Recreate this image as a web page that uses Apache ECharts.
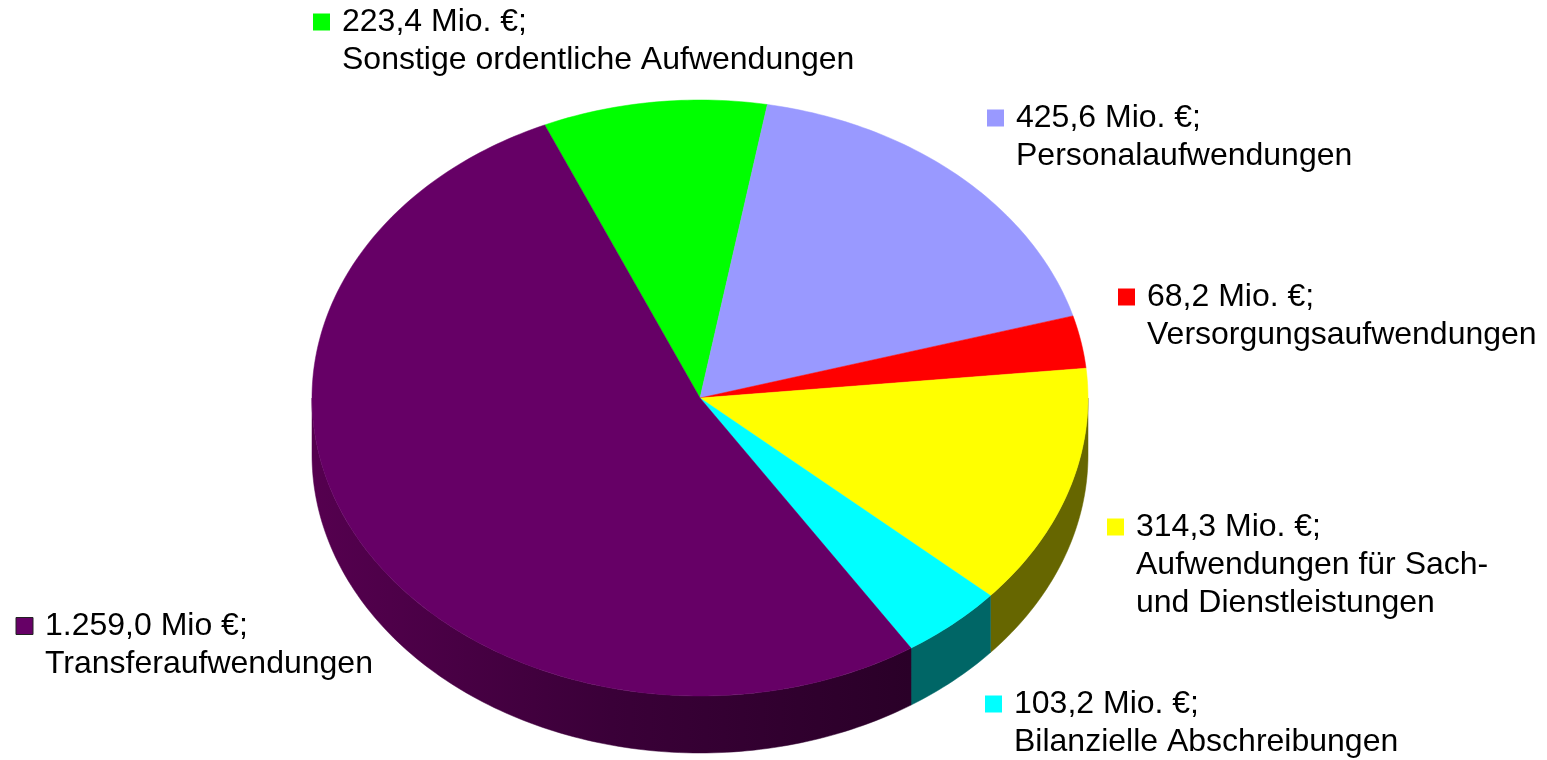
<!DOCTYPE html>
<html>
<head>
<meta charset="utf-8">
<script src="https://cdn.jsdelivr.net/npm/echarts@6/dist/echarts.min.js"></script>
<style>
  html, body { margin: 0; padding: 0; background: #fff; }
  #chart { width: 1547px; height: 760px; }
</style>
</head>
<body>
<div id="chart"></div>
<script>
// data
var names = ['Sonstige ordentliche Aufwendungen', 'Personalaufwendungen', 'Versorgungsaufwendungen',
  'Aufwendungen für Sach-\nund Dienstleistungen', 'Bilanzielle Abschreibungen', 'Transferaufwendungen']
var values = [223.4, 425.6, 68.2, 314.3, 103.2, 1259.0]
var units = ['Mio. €', 'Mio. €', 'Mio. €', 'Mio. €', 'Mio. €', 'Mio €']

// styles / layout
var colors = ['#00ff00', '#9999ff', '#ff0000', '#ffff00', '#00ffff', '#660066']
var sideColors = ['#008000', '#4d4d80', '#800000', '#666600', '#006666', null]
var labelAt = [[313, 22], [987, 118], [1118, 297], [1107, 527], [985, 704], [16, 626]]
var cx = 700, cy = 398, rx = 388, ry = 298, depth = 57, startDeg = -23.6

var total = values.reduce(function(s, v) { return s + v }, 0)

function fmt(v) {
  var parts = v.toFixed(1).split('.')
  var intPart = parts[0].replace(/\B(?=(\d{3})+(?!\d))/g, '.')
  return intPart + ',' + parts[1]
}

function angles(i, v) {
  var before = 0
  for (var j = 0; j < i; j++) before += values[j]
  var a = startDeg + before / total * 360
  return [a, a + v / total * 360]
}

function pt(deg, dy) {
  var r = deg * Math.PI / 180
  return [cx + rx * Math.sin(r), cy - ry * Math.cos(r) + (dy || 0)]
}

function arc(a, b, dy) {
  var pts = []
  var n = Math.max(2, Math.ceil(Math.abs(b - a)))
  for (var k = 0; k <= n; k++) pts.push(pt(a + (b - a) * k / n, dy))
  return pts
}

function renderSide(params, api) {
  var i = params.dataIndex
  var ab = angles(i, api.value(0))
  var s = Math.max(ab[0], 90), e = Math.min(ab[1], 270)
  if (e <= s) return null
  var pts = arc(s, e, 0).concat(arc(e, s, depth))
  var fill = sideColors[i] || new echarts.graphic.LinearGradient(0, 0, 1, 0, [
    { offset: 0, color: '#55004f' },
    { offset: 0.5, color: '#3a0038' },
    { offset: 1, color: '#2a0028' }
  ])
  return {
    type: 'polygon',
    shape: { points: pts },
    style: { fill: fill, stroke: fill, lineWidth: 0.5 }
  }
}

function renderTop(params, api) {
  var i = params.dataIndex
  var v = api.value(0)
  var ab = angles(i, v)
  var pts = [[cx, cy]].concat(arc(ab[0], ab[1], 0))
  var lx = labelAt[i][0], ly = labelAt[i][1]
  return {
    type: 'group',
    children: [
      {
        type: 'polygon',
        shape: { points: pts },
        style: { fill: colors[i], stroke: colors[i], lineWidth: 0.5 }
      },
      {
        type: 'rect',
        shape: { x: lx, y: ly - 8.5, width: 17, height: 17 },
        style: { fill: colors[i], stroke: i === 5 ? '#222' : null, lineWidth: 1 }
      },
      {
        type: 'text',
        x: lx + 29,
        y: ly - 19,
        style: {
          text: fmt(v) + ' ' + units[i] + ';\n' + names[i],
          fontFamily: '"Liberation Sans", Arial, sans-serif',
          fontSize: 32,
          lineHeight: 38,
          fill: '#000',
          verticalAlign: 'top',
          align: 'left'
        }
      }
    ]
  }
}

var chart = echarts.init(document.getElementById('chart'))
var seriesData = values.map(function(v, i) { return { name: names[i], value: [v] } })
chart.setOption({
  animation: false,
  backgroundColor: '#fff',
  series: [
    { type: 'custom', coordinateSystem: 'none', z: 1, data: seriesData, renderItem: renderSide },
    { type: 'custom', coordinateSystem: 'none', z: 2, data: seriesData, renderItem: renderTop }
  ]
})
</script>
</body>
</html>
